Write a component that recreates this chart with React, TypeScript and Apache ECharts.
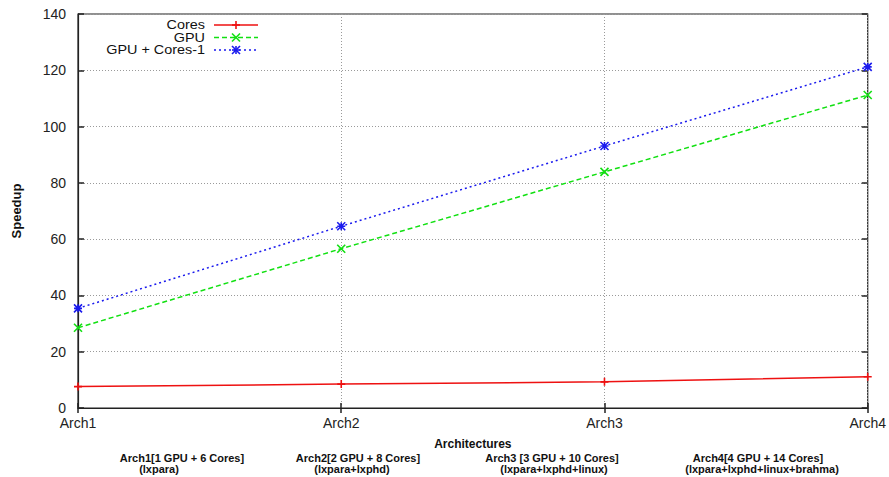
import React, { useEffect, useRef } from "react";
import * as echarts from "echarts";

const categories = ["Arch1", "Arch2", "Arch3", "Arch4"];
const coresValues = [7.6, 8.5, 9.3, 11.1];
const gpuValues = [28.5, 56.6, 83.9, 111.2];
const gpuCoresValues = [35.4, 64.6, 93.1, 121.2];
const seriesNames = ["Cores", "GPU", "GPU + Cores-1"];
const yTicks = { min: 0, max: 140, interval: 20 };
const bottomNotes = [
  ["Arch1[1 GPU + 6 Cores]", "(lxpara)"],
  ["Arch2[2 GPU + 8 Cores]", "(lxpara+lxphd)"],
  ["Arch3 [3 GPU + 10 Cores]", "(lxpara+lxphd+linux)"],
  ["Arch4[4 GPU + 14 Cores]", "(lxpara+lxphd+linux+brahma)"],
];

const FONT = "'Liberation Sans', Arial, Helvetica, sans-serif";
const RED = "#ee1111";
const GREEN = "#11e011";
const BLUE = "#1a1aee";

const PLUS = "path://M0,5L10,5M5,0L5,10";
const CROSS = "path://M0,0L10,10M10,0L0,10";
const STAR = "path://M0,0L10,10M10,0L0,10M5,0L5,10M0,5L10,5";

export default function App() {
  const ref = useRef<HTMLDivElement>(null);
  useEffect(() => {
    if (!ref.current) return;
    const chart = echarts.init(ref.current, null, { renderer: "svg" });
    const mkSeries = (name: string, data: number[], color: string, type: any, symbol: string) => ({
      name,
      type: "line",
      data,
      symbol,
      symbolSize: 8,
      showSymbol: true,
      lineStyle: { color, width: 1.5, type },
      itemStyle: { color, borderColor: color, borderWidth: 1.6 },
      emphasis: { disabled: true },
      z: 3,
    });

    const noteCenters = [
      [182, 159],
      [358, 352],
      [552, 554],
      [758, 762],
    ];
    const graphics: any[] = [];
    bottomNotes.forEach((lines, i) => {
      lines.forEach((t, j) => {
        graphics.push({
          type: "text",
          x: noteCenters[i][j],
          y: 458 + j * 11,
          scaleX: 1.1,
          style: {
            text: t,
            fill: "#111",
            font: `bold 10px ${FONT}`,
            textAlign: "center",
            textVerticalAlign: "middle",
          },
        });
      });
    });
    // legend
    const legendRows = [
      { name: seriesNames[0], color: RED, dash: null, marks: [[[0, 4], [8, 4]], [[4, 0], [4, 8]]] },
      { name: seriesNames[1], color: GREEN, dash: [5, 3], marks: [[[0, 0], [8, 8]], [[8, 0], [0, 8]]] },
      {
        name: seriesNames[2],
        color: BLUE,
        dash: [2, 3],
        marks: [[[0, 0], [8, 8]], [[8, 0], [0, 8]], [[4, 0], [4, 8]], [[0, 4], [8, 4]]],
      },
    ];
    legendRows.forEach((r, i) => {
      const y = 25 + i * 12.5;
      graphics.push({
        type: "text",
        x: 205,
        y,
        scaleX: 1.2,
        style: {
          text: r.name,
          fill: "#111",
          font: `12px ${FONT}`,
          textAlign: "right",
          textVerticalAlign: "middle",
        },
      });
      graphics.push({
        type: "line",
        shape: { x1: 214, y1: y, x2: 258, y2: y },
        style: { stroke: r.color, lineWidth: 1.5, lineDash: r.dash || undefined },
      });
      r.marks.forEach((m) => {
        graphics.push({
          type: "line",
          shape: { x1: 232 + m[0][0], y1: y - 4 + m[0][1], x2: 232 + m[1][0], y2: y - 4 + m[1][1] },
          style: { stroke: r.color, lineWidth: 1.6 },
        });
      });
    });

    const dotted = { show: true, lineStyle: { color: "#9a9a9a", type: [1, 2], width: 1 } };
    chart.setOption({
      animation: false,
      backgroundColor: "#fff",
      grid: {
        left: 78,
        right: 20,
        top: 14,
        bottom: 69,
        show: true,
        borderColor: "#222",
        borderWidth: 1.2,
        backgroundColor: "transparent",
      },
      xAxis: [
        {
          type: "category",
          data: categories,
          boundaryGap: false,
          axisLine: { show: true, lineStyle: { color: "#222", width: 1.2 } },
          axisTick: { show: true, inside: true, length: 5, lineStyle: { color: "#222", width: 1.5 } },
          axisLabel: { color: "#222", fontFamily: FONT, fontSize: 14, margin: 8 },
          splitLine: dotted,
          name: "Architectures",
          nameLocation: "middle",
          nameGap: 30,
          nameTextStyle: { color: "#111", fontFamily: FONT, fontSize: 12, fontWeight: "bold" },
        },
        {
          type: "category",
          data: categories,
          boundaryGap: false,
          position: "top",
          axisLine: { show: false },
          axisTick: { show: true, inside: true, length: 5, lineStyle: { color: "#222", width: 1.5 } },
          axisLabel: { show: false },
          splitLine: { show: false },
        },
      ],
      yAxis: [
        {
          type: "value",
          min: yTicks.min,
          max: yTicks.max,
          interval: yTicks.interval,
          axisLine: { show: true, lineStyle: { color: "#222", width: 1.2 } },
          axisTick: { show: true, inside: true, length: 6, lineStyle: { color: "#222", width: 1.5 } },
          axisLabel: { color: "#222", fontFamily: FONT, fontSize: 14, margin: 12 },
          splitLine: dotted,
          name: "Speedup",
          nameLocation: "middle",
          nameRotate: 90,
          nameGap: 55,
          nameTextStyle: { color: "#111", fontFamily: FONT, fontSize: 13, fontWeight: "bold" },
        },
        {
          type: "value",
          min: yTicks.min,
          max: yTicks.max,
          interval: yTicks.interval,
          position: "right",
          axisLine: { show: false },
          axisTick: { show: true, inside: true, length: 6, lineStyle: { color: "#222", width: 1.5 } },
          axisLabel: { show: false },
          splitLine: { show: false },
        },
      ],
      series: [
        mkSeries(seriesNames[0], coresValues, RED, "solid", PLUS),
        mkSeries(seriesNames[1], gpuValues, GREEN, [5, 3], CROSS),
        mkSeries(seriesNames[2], gpuCoresValues, BLUE, [2, 3], STAR),
      ],
      graphic: graphics,
    });
    return () => chart.dispose();
  }, []);
  return <div ref={ref} style={{ width: 889, height: 477, position: "absolute", left: 0, top: 0 }} />;
}
